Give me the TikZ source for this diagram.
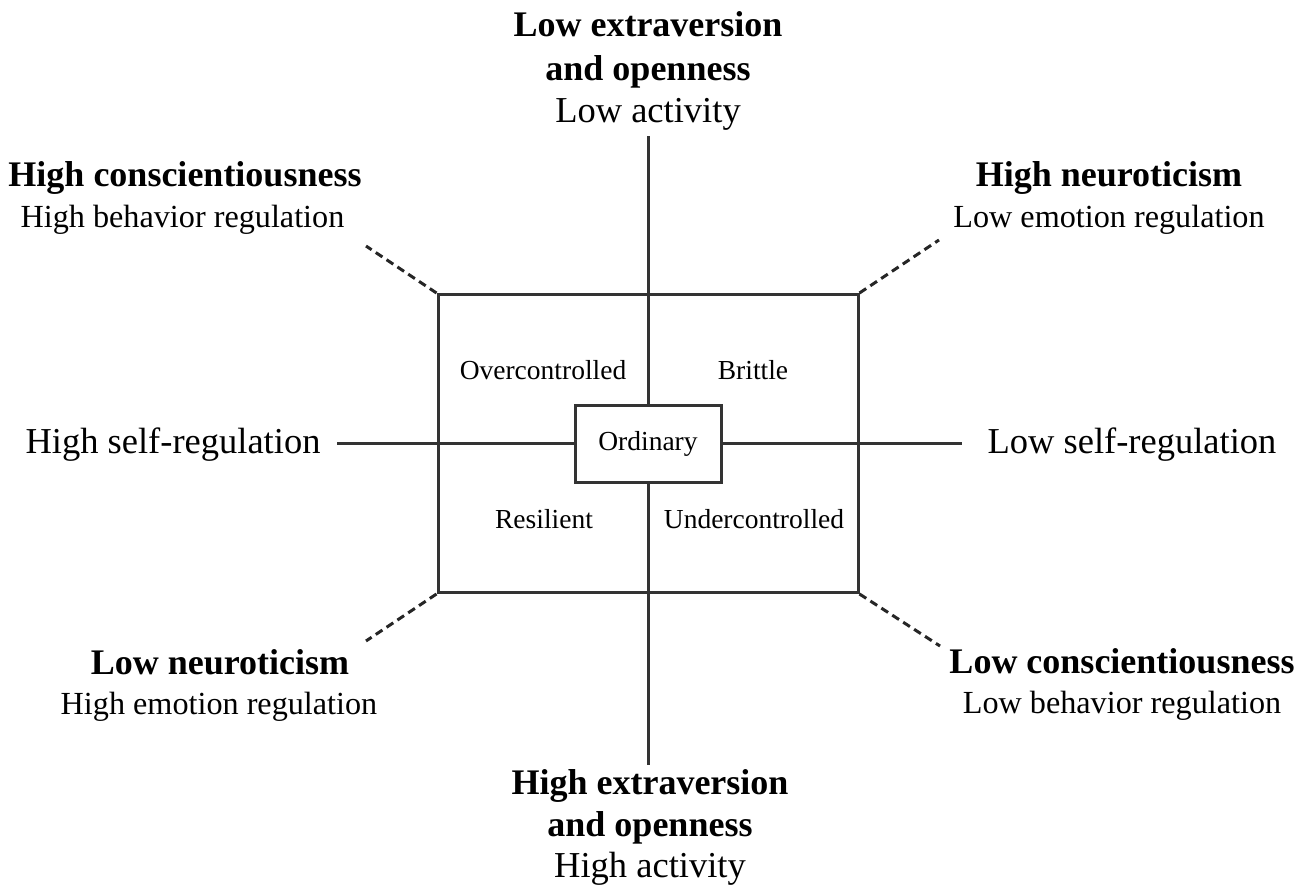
\documentclass[tikz,border=0pt]{standalone}
\usepackage{fontspec}
\setmainfont{Liberation Serif}
\begin{document}
\begin{tikzpicture}[x=1pt,y=-1pt,
  line/.style={draw=black!80, line width=3pt},
  dline/.style={draw=black!85, line width=3pt, dash pattern=on 8pt off 5pt},
  lab/.style={anchor=base, inner sep=0pt, font=\fontsize{36.5}{43}\selectfont},
  slab/.style={anchor=base, inner sep=0pt, font=\fontsize{32.2}{38}\selectfont},
  blab/.style={anchor=base, inner sep=0pt, font=\fontsize{36}{43}\selectfont\bfseries},
  quad/.style={anchor=base, inner sep=0pt, font=\fontsize{27.5}{32}\selectfont}]
\useasboundingbox[fill=white] (0,0) rectangle (1308,888);

% outer box and center
\node[line, rectangle, minimum width=420pt, minimum height=298pt, inner sep=0pt] (outer) at (648,443.5) {};
\node[line, rectangle, minimum width=146pt, minimum height=77pt, inner sep=0pt, font=\fontsize{27.5}{32}\selectfont] (ord) at (648,443.5) {Ordinary};

% axes
\coordinate (vtop) at (648,136);
\coordinate (vbot) at (648,765);
\coordinate (hleft) at (337,443.5);
\coordinate (hright) at (962,443.5);
\draw[line] (vtop) -- (ord.north);
\draw[line] (ord.south) -- (vbot);
\draw[line] (hleft) -- (ord.west);
\draw[line] (ord.east) -- (hright);

% dashed diagonals
\coordinate (dtl) at (366,246);
\coordinate (dtr) at (939,240);
\coordinate (dbl) at (366,641);
\coordinate (dbr) at (940,646);
\draw[dline] (outer.north west) -- (dtl);
\draw[dline] (outer.north east) -- (dtr);
\draw[dline] (outer.south west) -- (dbl);
\draw[dline] (outer.south east) -- (dbr);

% quadrant labels
\node[quad] (over) at (543,379) {Overcontrolled};
\node[quad] (brit) at (753,379) {Brittle};
\node[quad] (resi) at (544,528) {Resilient};
\node[quad] (under) at (754,528) {Undercontrolled};

% top
\node[blab] (t1) at (648,37) {Low extraversion};
\node[blab] (t2) at (648,81) {and openness};
\node[lab] (t3) at (648,122) {Low activity};
% bottom
\node[blab] (b1) at (650,794) {High extraversion};
\node[blab] (b2) at (650,836) {and openness};
\node[lab] (b3) at (650,877) {High activity};
% top left
\node[blab] (tl1) at (185,186) {High conscientiousness};
\node[slab] (tl2) at (182.5,227) {High behavior regulation};
% top right
\node[blab] (tr1) at (1109,186) {High neuroticism};
\node[slab] (tr2) at (1109,227) {Low emotion regulation};
% left / right
\node[lab] (l) at (173,453) {High self-regulation};
\node[lab] (r) at (1132,453) {Low self-regulation};
% bottom left
\node[blab] (bl1) at (220,674) {Low neuroticism};
\node[slab] (bl2) at (219,714) {High emotion regulation};
% bottom right
\node[blab] (br1) at (1122,673) {Low conscientiousness};
\node[slab] (br2) at (1122,713) {Low behavior regulation};
\end{tikzpicture}
\end{document}
